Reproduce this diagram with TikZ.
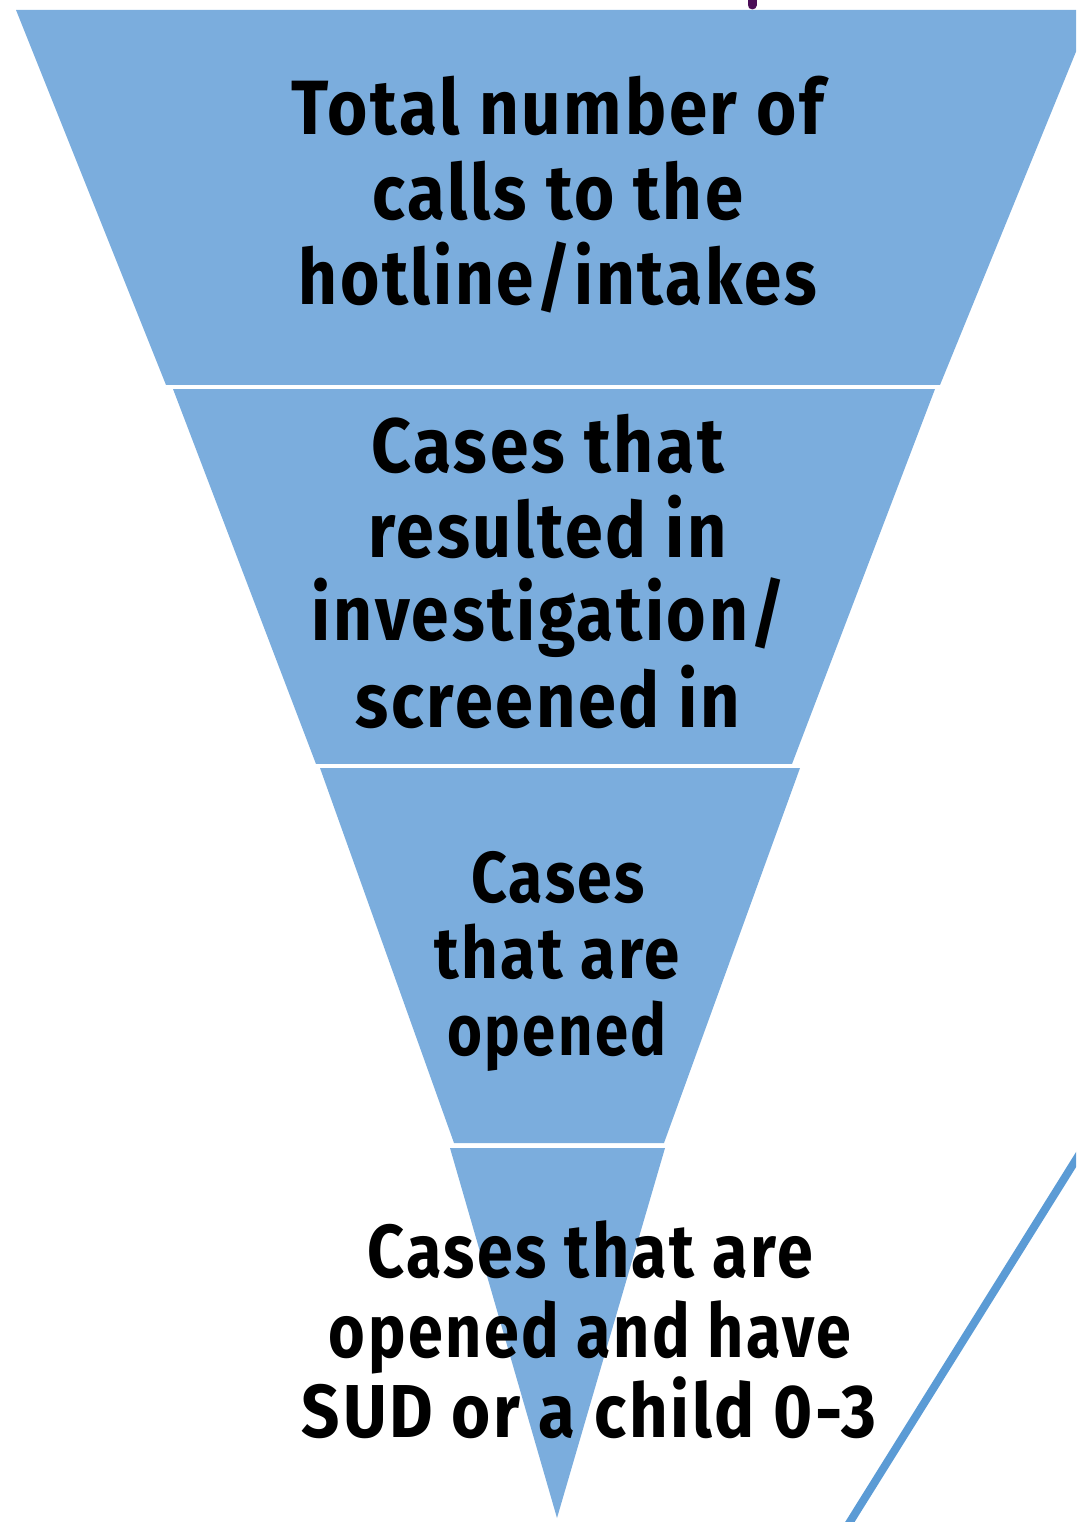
\documentclass[tikz,border=0pt]{standalone}
\usepackage{fontspec}
\usepackage{graphicx}
\setmainfont{Fira Sans}[LetterSpace=4]
\definecolor{funnelblue}{HTML}{7BADDD}
\definecolor{edgeblue}{HTML}{5B9BD5}
\definecolor{markpurple}{HTML}{4A0D57}
\newcommand\fitw[2]{\resizebox{#1pt}{\height}{#2}}
\begin{document}
\begin{tikzpicture}[x=1pt,y=-1pt,
  seg/.style={fill=funnelblue,draw=none},
  sepline/.style={draw=white,line width=4pt},
  lblA/.style={anchor=base,inner sep=0pt,font=\bfseries\fontsize{77}{85}\selectfont},
  lblB/.style={anchor=base,inner sep=0pt,font=\bfseries\fontsize{72}{78}\selectfont},
  lblC/.style={anchor=base,inner sep=0pt,font=\bfseries\fontsize{75}{80}\selectfont}]
\useasboundingbox (0,0) rectangle (1076,1522);
\begin{scope}
\clip (0,0) rectangle (1076,1522);
% small purple mark at top
\draw[markpurple,line width=9pt,line cap=round] (752,-8) -- (752,5);
% funnel segments
\fill[seg] (16,10) -- (1093,10) -- (940,385) -- (166,385) -- cycle;
\fill[seg] (173,389) -- (935,389) -- (792,764) -- (316,764) -- cycle;
\fill[seg] (320,768) -- (800,768) -- (664,1143) -- (454,1143) -- cycle;
\fill[seg] (450,1148) -- (665,1148) -- (557,1518) -- cycle;
% separators
\coordinate (s1a) at (163,387); \coordinate (s1b) at (942,387);
\coordinate (s2a) at (314,766); \coordinate (s2b) at (802,766);
\coordinate (s3a) at (447,1146); \coordinate (s3b) at (667,1146);
\draw[sepline] (s1a) -- (s1b);
\draw[sepline] (s2a) -- (s2b);
\draw[sepline] (s3a) -- (s3b);
% texts
\node[lblA] (t11) at (558,135) {\fitw{533}{Total number of}};
\node[lblA] (t12) at (558,220) {\fitw{371}{calls to the}};
\node[lblA] (t13) at (558,305) {\fitw{518}{hotline/intakes}};
\node[lblA] (t21) at (548,472) {\fitw{353}{Cases that}};
\node[lblA] (t22) at (548,557) {\fitw{358}{resulted in}};
\node[lblA] (t23) at (549,640) {\fitw{474}{investigation/}};
\node[lblA] (t24) at (548,727) {\fitw{385}{screened in}};
\node[lblB] (t31) at (558,902) {\fitw{174}{Cases}};
\node[lblB] (t32) at (557,978) {\fitw{245}{that are}};
\node[lblB] (t33) at (557,1055) {\fitw{219}{opened}};
\node[lblC] (t41) at (590,1277) {\fitw{446}{Cases that are}};
\node[lblC] (t42) at (590,1357) {\fitw{522}{opened and have}};
\node[lblC] (t43) at (589,1437) {\fitw{574}{SUD or a child 0-3}};
% blue diagonal line
\coordinate (d1) at (1092,1134); \coordinate (d2) at (838,1541);
\draw[edgeblue,line width=8pt] (d1) -- (d2);
\end{scope}
\end{tikzpicture}
\end{document}
